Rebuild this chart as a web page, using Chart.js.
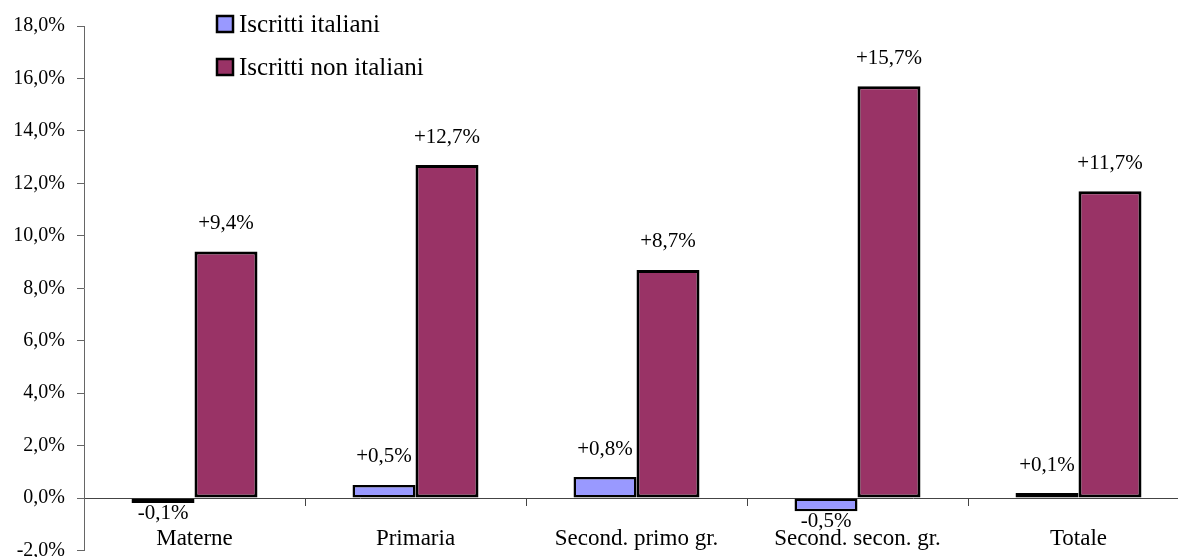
<!DOCTYPE html>
<html>
<head>
<meta charset="utf-8">
<script src="https://cdn.jsdelivr.net/npm/chart.js@4.4.1/dist/chart.umd.min.js"></script>
<style>
  html, body { margin: 0; padding: 0; background: #ffffff; overflow: hidden; }
  #wrap { position: absolute; left: 0; top: 0; width: 1200px; height: 575px; }
</style>
</head>
<body>
<div id="wrap"><canvas id="c" width="1200" height="575"></canvas></div>
<script>
const categories = ['Materne', 'Primaria', 'Second. primo gr.', 'Second. secon. gr.', 'Totale'];
const seriesNames = ['Iscritti italiani', 'Iscritti non italiani'];
const italiani = [-0.1, 0.5, 0.8, -0.5, 0.1];
const nonItaliani = [9.4, 12.7, 8.7, 15.7, 11.7];
const yTicks = [-2, 0, 2, 4, 6, 8, 10, 12, 14, 16, 18];

const FONT = "'Liberation Serif', 'Times New Roman', serif";
const fmtTick = v => v.toFixed(1).replace('.', ',') + '%';
const fmtLabel = v => (v > 0 ? '+' : '') + v.toFixed(1).replace('.', ',') + '%';

const dataLabels = {
  id: 'dataLabels',
  afterDatasetsDraw(chart) {
    const ctx = chart.ctx;
    ctx.save();
    ctx.font = '21px ' + FONT;
    ctx.fillStyle = '#000';
    ctx.textAlign = 'center';
    ctx.textBaseline = 'middle';
    chart.data.datasets.forEach((ds, i) => {
      const meta = chart.getDatasetMeta(i);
      meta.data.forEach((el, j) => {
        const v = ds.data[j];
        const y = v >= 0 ? el.y - 28 : el.y + 10;
        ctx.fillText(fmtLabel(v), el.x, y);
      });
    });
    ctx.restore();
  }
};

const customLegend = {
  id: 'customLegend',
  afterDraw(chart) {
    const ctx = chart.ctx;
    ctx.save();
    ctx.font = '25px ' + FONT;
    ctx.textAlign = 'left';
    ctx.textBaseline = 'middle';
    chart.data.datasets.forEach((ds, i) => {
      const cy = 24 + i * 43;
      ctx.fillStyle = ds.backgroundColor;
      ctx.fillRect(217, cy - 8, 16, 16);
      ctx.lineWidth = 2.5;
      ctx.strokeStyle = '#000';
      ctx.strokeRect(217, cy - 8, 16, 16);
      ctx.fillStyle = '#000';
      ctx.fillText(ds.label, 239, cy + 1);
    });
    ctx.restore();
  }
};

new Chart(document.getElementById('c'), {
  type: 'bar',
  data: {
    labels: categories,
    datasets: [
      { label: seriesNames[0], data: italiani, backgroundColor: '#9999ff', borderColor: '#000', borderWidth: 2.5, borderSkipped: false, minBarLength: 5 },
      { label: seriesNames[1], data: nonItaliani, backgroundColor: '#993366', borderColor: '#000', borderWidth: 3, borderSkipped: false }
    ]
  },
  options: {
    responsive: false,
    animation: false,
    devicePixelRatio: 1,
    layout: { padding: { top: 26, left: 0, right: 11, bottom: 24.5 } },
    datasets: { bar: { categoryPercentage: 0.57, barPercentage: 1.0 } },
    plugins: { legend: { display: false }, tooltip: { enabled: false } },
    scales: {
      x: {
        position: { y: 0 },
        offset: true,
        grid: { offset: true, drawOnChartArea: false, tickLength: 7, color: '#444', lineWidth: 1 },
        border: { color: '#444', width: 1 },
        ticks: { color: '#000', font: { family: FONT, size: 23 }, padding: 20, maxRotation: 0, autoSkip: false }
      },
      y: {
        min: yTicks[0],
        max: yTicks[yTicks.length - 1],
        afterBuildTicks: s => { s.ticks = yTicks.map(v => ({ value: v })); },
        afterFit: s => { s.width = 84; },
        grid: { drawOnChartArea: false, tickLength: 7, color: '#666', lineWidth: 1 },
        border: { color: '#666', width: 1 },
        ticks: { color: '#000', font: { family: FONT, size: 20 }, padding: 12, callback: v => fmtTick(v) }
      }
    }
  },
  plugins: [dataLabels, customLegend]
});
</script>
</body>
</html>
